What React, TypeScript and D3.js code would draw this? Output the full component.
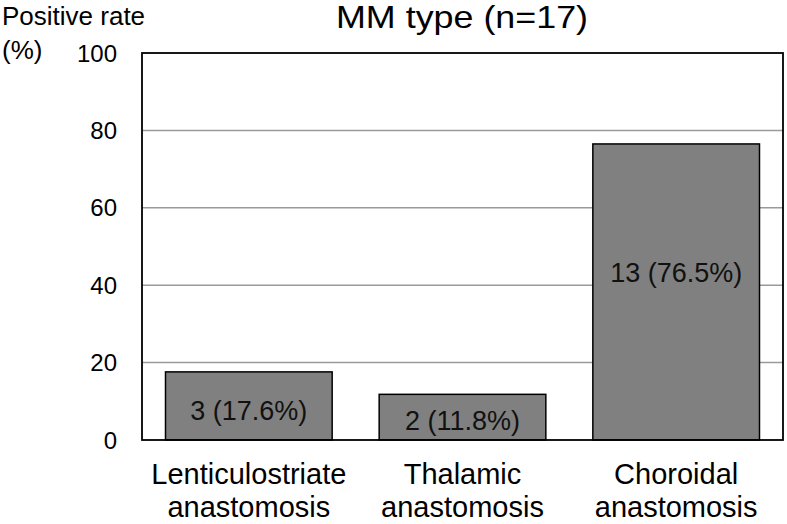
import { useEffect, useRef } from 'react'
import * as d3 from 'd3'

const categories = ['Lenticulostriate anastomosis', 'Thalamic anastomosis', 'Choroidal anastomosis']
const counts = [3, 2, 13]
const rates = [17.6, 11.8, 76.5]
const yTicks = [0, 20, 40, 60, 80, 100]
const title = 'MM type (n=17)'

// small vertical nudges for the value labels, as placed in the original
const labelNudge = [4, 3, -20]

export default function App() {
  const svgRef = useRef<SVGSVGElement>(null)
  const width = 787
  const height = 524

  useEffect(() => {
    if (!svgRef.current) return
    const svg = d3.select(svgRef.current)
    svg.selectAll('*').remove()

    const margin = { left: 142, right: 4, top: 53, bottom: 84 }
    const font = 'Arial, "Liberation Sans", sans-serif'

    const x = d3.scaleBand<string>()
      .domain(categories)
      .range([margin.left, width - margin.right])
      .paddingInner(0.22)
      .paddingOuter(0.11)

    const y = d3.scaleLinear()
      .domain([0, 100])
      .range([height - margin.bottom, margin.top])

    // gridlines
    svg.append('g')
      .selectAll('line')
      .data(yTicks.filter(t => t > 0 && t < 100))
      .enter().append('line')
      .attr('x1', margin.left)
      .attr('x2', width - margin.right)
      .attr('y1', d => y(d))
      .attr('y2', d => y(d))
      .style('stroke', '#9a9a9a')
      .style('stroke-width', 1.5)

    // bars
    svg.append('g')
      .selectAll('rect')
      .data(rates)
      .enter().append('rect')
      .attr('x', (d, i) => x(categories[i])!)
      .attr('y', d => y(d))
      .attr('width', x.bandwidth())
      .attr('height', d => y(0) - y(d))
      .style('fill', '#808080')
      .style('stroke', '#000')
      .style('stroke-width', 1.5)

    // plot frame
    svg.append('rect')
      .attr('x', margin.left)
      .attr('y', margin.top)
      .attr('width', width - margin.right - margin.left)
      .attr('height', y(0) - margin.top)
      .style('fill', 'none')
      .style('stroke', '#000')
      .style('stroke-width', 1.8)

    // value labels
    svg.append('g')
      .selectAll('text')
      .data(rates)
      .enter().append('text')
      .attr('x', (d, i) => x(categories[i])! + x.bandwidth() / 2)
      .attr('y', (d, i) => (y(d) + y(0)) / 2 + labelNudge[i])
      .attr('dy', '0.36em')
      .attr('text-anchor', 'middle')
      .style('font-family', font)
      .style('font-size', '27px')
      .style('fill', '#111')
      .text((d, i) => `${counts[i]} (${d.toFixed(1)}%)`)

    // y tick labels
    svg.append('g')
      .selectAll('text')
      .data(yTicks)
      .enter().append('text')
      .attr('x', 117)
      .attr('y', d => y(d))
      .attr('dy', '0.36em')
      .attr('text-anchor', 'end')
      .style('font-family', font)
      .style('font-size', '24px')
      .style('fill', '#000')
      .text(d => d)

    // category labels, two lines each
    const cat = svg.append('g')
      .selectAll('text')
      .data(categories)
      .enter().append('text')
      .attr('text-anchor', 'middle')
      .style('font-family', font)
      .style('font-size', '29px')
      .style('fill', '#000')

    cat.selectAll('tspan')
      .data(d => d.split(' ').map(line => ({ line, key: d })))
      .enter().append('tspan')
      .attr('x', d => x(d.key)! + x.bandwidth() / 2)
      .attr('y', (d, i) => 484 + i * 33)
      .text(d => d.line)

    // y axis title
    svg.append('text')
      .attr('x', 2)
      .attr('y', 25)
      .style('font-family', font)
      .style('font-size', '26px')
      .text('Positive rate')

    svg.append('text')
      .attr('x', 2)
      .attr('y', 59)
      .style('font-family', font)
      .style('font-size', '26px')
      .text('(%)')

    // chart title
    svg.append('text')
      .attr('x', 336)
      .attr('y', 28)
      .attr('textLength', 252)
      .attr('lengthAdjust', 'spacingAndGlyphs')
      .style('font-family', font)
      .style('font-size', '32px')
      .text(title)
  }, [])

  return (
    <svg
      ref={svgRef}
      width={width}
      height={height}
      style={{ position: 'absolute', left: 0, top: 0, background: '#fff' }}
    />
  )
}
